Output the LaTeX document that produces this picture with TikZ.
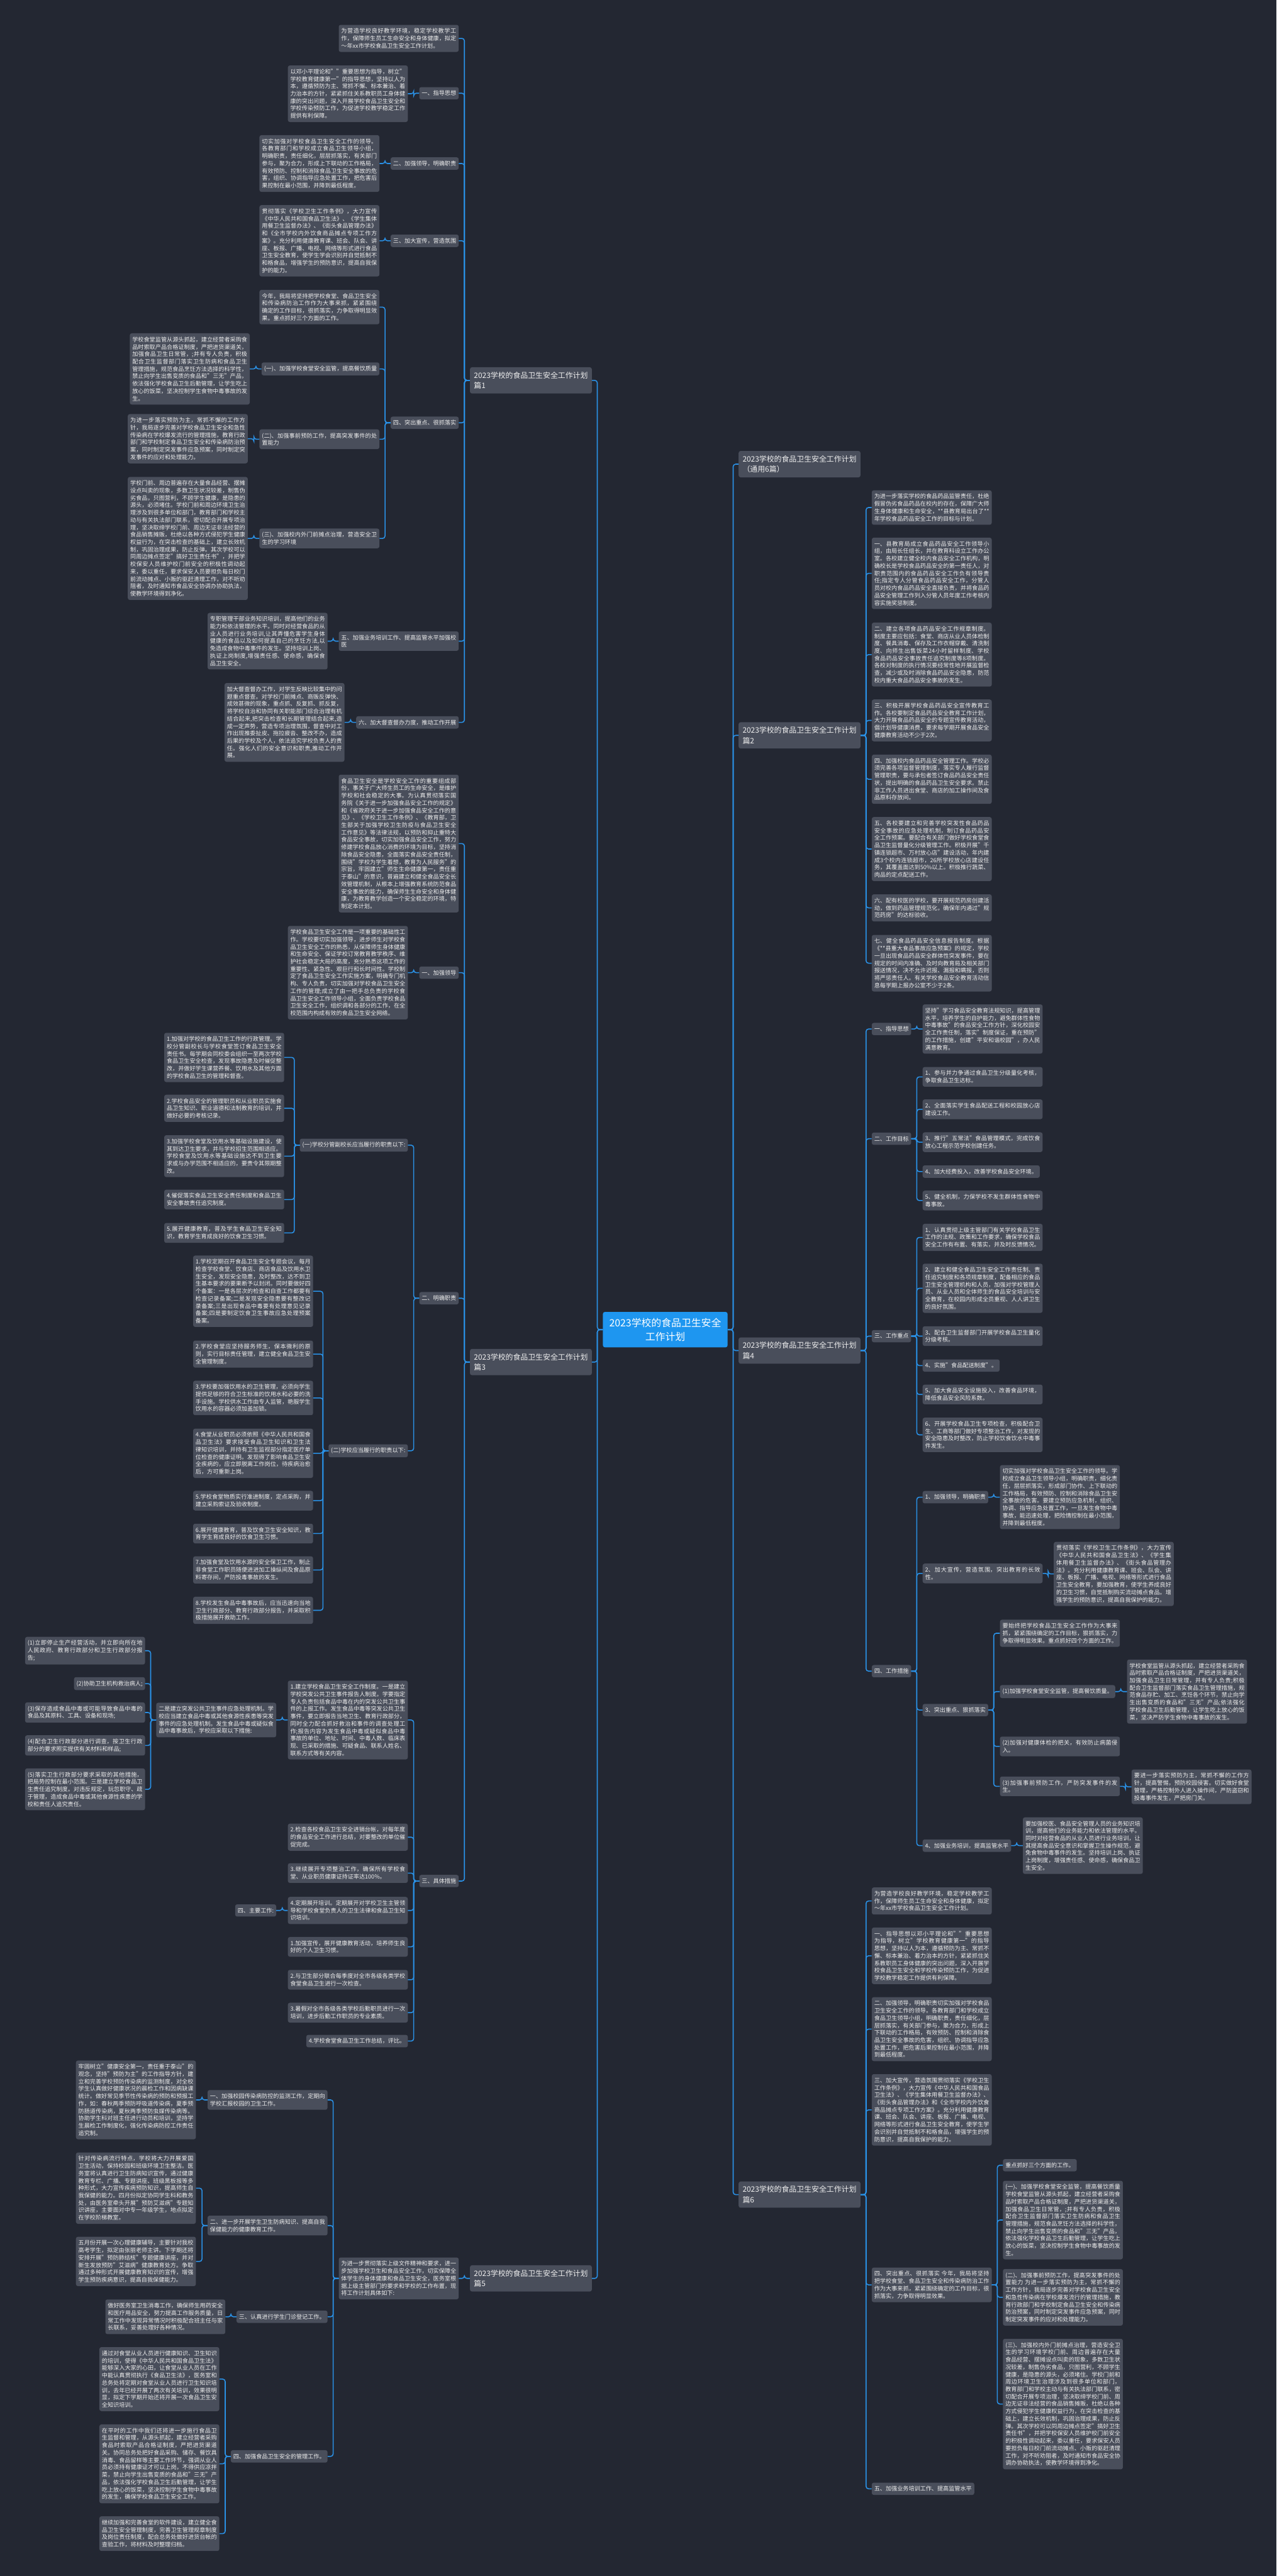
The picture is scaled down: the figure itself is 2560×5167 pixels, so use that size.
\documentclass[tikz,border=0pt]{standalone}
\usepackage{fontspec}
\setmainfont{Noto Sans CJK SC}
\XeTeXlinebreaklocale "zh"
\XeTeXlinebreakskip=0pt plus 1pt
\definecolor{bgc}{RGB}{35,39,50}
\definecolor{boxc}{RGB}{73,78,91}
\definecolor{rootc}{RGB}{30,150,240}
\definecolor{linec}{RGB}{42,145,230}
\definecolor{txtc}{RGB}{238,238,238}

\begin{document}
\begin{tikzpicture}[x=1pt,y=-1pt,
    every node/.style={text=txtc,fill=boxc,rounded corners=4pt,inner xsep=5pt,inner ysep=7pt},
    root/.style={fill=rootc,text=white,align=center,font=\fontsize{20}{27}\selectfont,minimum width=250pt,minimum height=71pt},
    part/.style={align=left,font=\fontsize{15}{20.7}\selectfont,inner xsep=8pt,inner ysep=9pt},
    leaf/.style={text width=230.5pt,align=justify,font=\fontsize{11.5}{14.8}\selectfont},
    tag/.style={font=\fontsize{11.5}{14.8}\selectfont},
    lnk/.style={draw=linec,line width=2pt,rounded corners=5pt}]
    \fill[bgc](0,0)rectangle(2560,5167);
    \useasboundingbox(0,0)rectangle(2560,5167);

    \node[root](c)at(1334,2667){2023学校的食品卫生安全\\工作计划};

    % left side
    \node[part,anchor=east](p1)at(1187,763){2023学校的食品卫生安全工作计划\\篇1};
    \node[leaf,anchor=east](p1a)at(920,77){为营造学校良好教学环境，稳定学校教学工作，保障师生员工生命安全和身体健康，拟定～年xx市学校食品卫生安全工作计划。};
    \node[tag,anchor=east](p1b)at(920,187){一、指导思想};
    \node[leaf,anchor=east](p1b1)at(818,188){以邓小平理论和""重要思想为指导，树立"学校教育健康第一"的指导思想，坚持以人为本，遵循预防为主、常抓不懈、标本兼治、着力治本的方针，紧紧抓住关系教职员工身体健康的突出问题，深入开展学校食品卫生安全和学校传染预防工作，为促进学校教学稳定工作提供有利保障。};
    \node[tag,anchor=east](p1c)at(920,328){二、加强领导，明确职责};
    \node[leaf,anchor=east](p1c1)at(761,328){切实加强对学校食品卫生安全工作的领导。各教育部门和学校成立食品卫生领导小组，明确职责，责任细化，层层抓落实，有关部门参与，聚为合力，形成上下联动的工作格局，有效预防、控制和消除食品卫生安全事故的危害，组织、协调指导应急处置工作，把危害后果控制在最小范围，并降到最低程度。};
    \node[tag,anchor=east](p1d)at(920,483){三、加大宣传，营造氛围};
    \node[leaf,anchor=east](p1d1)at(761,483){贯彻落实《学校卫生工作条例》，大力宣传《中华人民共和国食品卫生法》、《学生集体用餐卫生监督办法》、《街头食品管理办法》和《全市学校内外饮食商品摊点专项工作方案》。充分利用健康教育课、班会、队会、讲座、板报、广播、电视、网络等形式进行食品卫生安全教育，使学生学会识别并自觉抵制不和格食品，增强学生的预防意识，提高自我保护的能力。};
    \node[tag,anchor=east](p1e)at(920,848){四、突出重点、很抓落实};
    \node[leaf,anchor=east](p1e1)at(761,616){今年，我局将坚持把学校食堂、食品卫生安全和传染病防治工作作为大事来抓，紧紧围绕确定的工作目标，很抓落实，力争取得明显效果。重点抓好三个方面的工作。};
    \node[tag,anchor=east](p1e2)at(761,740){(一)、加强学校食堂安全监管，提高餐饮质量};
    \node[leaf,anchor=east](p1e2a)at(501,740){学校食堂监管从源头抓起，建立经营者采购食品时索取产品合格证制度，严把进货渠道关，加强食品卫生日常管，;并有专人负责，积极配合卫生监督部门落实卫生防病和食品卫生管理措施，规范食品烹饪方法选择的科学性，禁止向学生出售变质的食品和"三无"产品，依法强化学校食品卫生后勤管理，让学生吃上放心的饭菜，坚决控制学生食物中毒事故的发生。};
    \node[leaf,anchor=east](p1e3)at(761,881){(二)、加强事前预防工作，提高突发事件的处置能力};
    \node[leaf,anchor=east](p1e3a)at(497,880){为进一步落实预防为主，常抓不懈的工作方针，我局逐步完善对学校食品卫生安全和急性传染病在学校爆发流行的管理措施，教育行政部门和学校制定食品卫生安全和传染病防治预案，同时制定突发事件应急预案，同时制定突发事件的应对和处理能力。};
    \node[leaf,anchor=east](p1e4)at(761,1080){(三)、加强校内外门前摊点治理，营造安全卫生的学习环境};
    \node[leaf,anchor=east](p1e4a)at(497,1080){学校门前、周边普遍存在大量食品经营、摆摊设点叫卖的现象，多数卫生状况较差，制售伪劣食品，只图营利，不顾学生健康，是隐患的源头，必须堵住。学校门前和周边环境卫生治理涉及到很多单位和部门，教育部门和学校主动与有关执法部门联系，密切配合开展专项治理，坚决取缔学校门前、周边无证非法经营的食品销售摊贩，杜绝以各种方式侵犯学生健康权益行为，在突击检查的基础上，建立长效机制，巩固治理成果，防止反弹。其次学校可以同周边摊点签定"搞好卫生责任书"，并把学校保安人员维护校门前安全的积极性调动起来，委以重任，要求保安人员要担负每日校门前流动摊点、小贩的驱赶清理工作，对不听劝阻者，及时通知市食品安全协调办协助执法，使教学环境得到净化。};
    \node[leaf,anchor=east](p1f)at(920,1286){五、加强业务培训工作、提高监管水平加强校医};
    \node[leaf,anchor=east](p1f1)at(657,1286){专职管理干部业务知识培训，提高他们的业务能力和依法管理的水平。同时对经营食品的从业人员进行业务培训,让其弄懂危害学生身体健康的食品以及如何提高自己的烹饪方法,以免造成食物中毒事件的发生。坚持培训上岗、执证上岗制度,增强责任感、使命感，确保食品卫生安全。};
    \node[tag,anchor=east](p1g)at(920,1449){六、加大督查督办力度，推动工作开展};
    \node[leaf,anchor=east](p1g1)at(691,1449){加大督查督办工作，对学生反映比较集中的问题重点督查。对学校门前摊点、商贩反弹快、成效甚微的现象，重点抓、反复抓、抓反复，将学校自治和协同有关职能部门综合治理有机结合起来,把突击检查和长期管理结合起来,造成一定声势，营造专项治理氛围，督查中对工作出现推委扯皮、拖拉疲沓、整改不办，造成后果的学校及个人，依法追究学校负责人的责任。强化人们的安全意识和职责,推动工作开展。};

    \node[part,anchor=east](p3)at(1187,2732){2023学校的食品卫生安全工作计划\\篇3};
    \node[leaf,anchor=east](p3a)at(920,1692){食品卫生安全是学校安全工作的重要组成部份，事关于广大师生员工的生命安全，是维护学校和社会稳定的大事。为认真贯彻落实国务院《关于进一步加强食品安全工作的规定》和《省政府关于进一步加强食品安全工作的意见》、《学校卫生工作条例》、《教育部，卫生部关于加强学校卫生防疫与食品卫生安全工作意见》等法律法规，以预防和抑止重特大食品安全事故，切实加强食品安全工作，努力修建学校食品放心消费的环境为目标，坚持消除食品安全隐患，全面落实食品安全责任制，围绕"学校为学生着想，教育为人民服务"的宗旨，牢固建立"师生生命健康第一，责任重于泰山"的意识，普遍建立和健全食品安全长效管理机制，从根本上增强教育系统防范食品安全事故的能力，确保师生生命安全和身体健康，为教育教学创造一个安全稳定的环境，特制定本计划。};
    \node[tag,anchor=east](p3b)at(920,1951){一、加强领导};
    \node[leaf,anchor=east](p3b1)at(818,1951){学校食品卫生安全工作是一项重要的基础性工作。学校要切实加强领导，进步师生对学校食品卫生安全工作的熟悉，从保障师生身体健康和生命安全、保证学校订常教育教学秩序、维护社会稳定大局的高度，充分熟悉这项工作的重要性、紧急性、艰巨行和长时间性。学校制定了食品卫生安全工作实施方案，明确专门机构、专人负责，切实加强对学校食品卫生安全工作的管理;成立了由一把手总负责的学校食品卫生安全工作领导小组，全面负责学校食品卫生安全工作，组织调和各部分的工作，在全校范围内构成有效的食品卫生安全网络。};
    \node[tag,anchor=east](p3c)at(920,2604){二、明确职责};
    \node[tag,anchor=east](p3c1)at(818,2297){(一)学校分管副校长应当履行的职责以下:};
    \node[leaf,anchor=east](p3c1a)at(570,2121){1.加强对学校的食品卫生工作的行政管理。学校分管副校长与学校食堂签订食品卫生安全责任书。每学期会同校委会组织一至两次学校食品卫生安全检查，发现事故隐患及时催促整改，并做好学生课营养餐、饮用水及其他方面的学校食品卫生的管理和督查。};
    \node[leaf,anchor=east](p3c1b)at(570,2223){2.学校食品安全的管理职员和从业职员实施食品卫生知识、职业道德和法制教育的培训，并做好必要的考核记录。};
    \node[leaf,anchor=east](p3c1c)at(570,2319){3.加强学校食堂及饮用水等基础设施建设，使其到达卫生要求，并与学校招生范围相适应。学校食堂及饮用水等基础设施达不到卫生要求或与办学范围不相适应的，要责令其限期整改。};
    \node[leaf,anchor=east](p3c1d)at(570,2406){4.催促落实食品卫生安全责任制度和食品卫生安全事故责任追究制度。};
    \node[leaf,anchor=east](p3c1e)at(570,2473){5.展开健康教育，普及学生食品卫生安全知识，教育学生育成良好的饮食卫生习惯。};
    \node[tag,anchor=east](p3c2)at(818,2910){(二)学校应当履行的职责以下:};
    \node[leaf,anchor=east](p3c2a)at(628,2590){1.学校定期召开食品卫生安全专题会议，每月检查学校食堂、饮食店、商店食品及饮用水卫生安全，发现安全隐患，及时整改，达不到卫生基本要求的要果断予以封闭。同时要做好四个备案：一是各层次的检查和自查工作都要有检查记录备案;二是发现安全隐患要有整改记录备案;三是出现食品中毒要有处理意见记录备案;四是要制定饮食卫生事故应急处理预案备案。};
    \node[leaf,anchor=east](p3c2b)at(628,2716){2.学校食堂应坚持服务师生，保本微利的原则，实行目标责任管理，建立健全食品卫生安全管理制度。};
    \node[leaf,anchor=east](p3c2c)at(628,2804){3.学校要加强饮用水的卫生管理，必须向学生提供足够的符合卫生标准的饮用水和必要的洗手设施。学校供水工作由专人监管，艳服学生饮用水的容器必须加盖加锁。};
    \node[leaf,anchor=east](p3c2d)at(628,2915){4.食堂从业职员必须依照《中华人民共和国食品卫生法》要求接受食品卫生知识和卫生法律知识培训，并持有卫生监视部分指定医疗单位检查的健康证明。发现得了影响食品卫生安全疾病的，应立即脱离工作岗位，待疾病治愈后，方可重新上岗。};
    \node[leaf,anchor=east](p3c2e)at(628,3010){5.学校食堂物质实行准进制度，定点采购，并建立采购索证及验收制度。};
    \node[leaf,anchor=east](p3c2f)at(628,3076){6.展开健康教育，普及饮食卫生安全知识，教育学生育成良好的饮食卫生习惯。};
    \node[leaf,anchor=east](p3c2g)at(628,3149){7.加强食堂及饮用水源的安全保卫工作，制止非食堂工作职员随便进进加工操纵间及食品原料寄存间，严防投毒事故的发生。};
    \node[leaf,anchor=east](p3c2h)at(628,3230){8.学校发生食品中毒事故后，应当迅速向当地卫生行政部分、教育行政部分报告，并采取积极措施展开救助工作。};
    \node[tag,anchor=east](p3d)at(920,3773){三、具体措施};
    \node[leaf,anchor=east](p3d1)at(818,3450){1.建立学校食品卫生安全工作制度。一是建立学校突发公共卫生事件报告人制度。学要指定专人负责包括食品中毒在内的突发公共卫生事件的上报工作。发生食品中毒等突发公共卫生事件，要立即报告当地卫生、教育行政部分，同时全力配合抓好救治和事件的调查处理工作;报告内容为发生食品中毒或疑似食品中毒事故的单位、地址、时间、中毒人数、临床表现、已采取的措施、可疑食品、联系人姓名、联系方式等有关内容。};
    \node[leaf,anchor=east](p3d1x)at(554,3450){二是建立突发公共卫生事件应急处理机制。学校应当建立食品中毒或其他食源性疾患等突发事件的应急处理机制。发生食品中毒或疑似食品中毒事故后，学校应采取以下措施:};
    \node[leaf,anchor=east](p3d1xa)at(291,3311){(1)立即停止生产经营活动，并立即向所在地人民政府、教育行政部分和卫生行政部分报告;};
    \node[tag,anchor=east](p3d1xb)at(291,3377){(2)协助卫生机构救治病人;};
    \node[leaf,anchor=east](p3d1xc)at(291,3435){(3)保存造成食品中毒或可能导致食品中毒的食品及其原料、工具、设备和现场;};
    \node[leaf,anchor=east](p3d1xd)at(291,3501){(4)配合卫生行政部分进行调查，按卫生行政部分的要求照实提供有关材料和样品;};
    \node[leaf,anchor=east](p3d1xe)at(291,3589){(5)落实卫生行政部分要求采取的其他措施，把局势控制在最小范围。三是建立学校食品卫生责任追究制度。对违反规定，玩忽职守、疏于管理，造成食品中毒或其他食源性疾患的学校和责任人追究责任。};
    \node[leaf,anchor=east](p3d2)at(818,3685){2.检查各校食品卫生安全进销台帐，对每年度的食品安全工作进行总结，对要整改的单位催促完成。};
    \node[leaf,anchor=east](p3d3)at(818,3757){3.继续展开专项整治工作，确保所有学校食堂、从业职员健康证持证率达100\%。};
    \node[leaf,anchor=east](p3d4)at(818,3832){4.定期展开培训。定期展开对学校卫生主管领导和学校食堂负责人的卫生法律和食品卫生知识培训。};
    \node[tag,anchor=east](p3d4x)at(554,3832){四、主要工作:};
    \node[leaf,anchor=east](p3d5)at(818,3905){1.加强宣传，展开健康教育活动，培养师生良好的个人卫生习惯。};
    \node[leaf,anchor=east](p3d6)at(818,3971){2.与卫生部分联合每季度对全市各级各类学校食堂食品卫生进行一次检查。};
    \node[leaf,anchor=east](p3d7)at(818,4037){3.暑假对全市各级各类学校后勤职员进行一次培训，进步后勤工作职员的专业素质。};
    \node[tag,anchor=east](p3d8)at(818,4094){4.学校食堂食品卫生工作总结，评比。};

    \node[part,anchor=east](p5)at(1187,4570){2023学校的食品卫生安全工作计划\\篇5};
    \node[leaf,anchor=east](p5a)at(920,4570){为进一步贯彻落实上级文件精神和要求，进一步加强学校卫生和食品安全工作，切实保障全体学生的身体健康和食品卫生安全，医务室根据上级主管部门的要求和学校的工作布置，现将工作计划具体如下:};
    \node[leaf,anchor=east](p5a1)at(657,4212){一、加强校园传染病防控的监测工作，定期向学校汇报校园的卫生工作。};
    \node[leaf,anchor=east](p5a1x)at(393,4212){牢固树立"健康安全第一，责任重于泰山"的观念，坚持"预防为主"的工作指导方针，建立和完善学校预防传染病的监测制度，对全校学生认真做好健康状况的晨检工作和因病缺课统计。做好常见季节性传染病的预防和预报工作，如：春秋两季预防呼吸道传染病，夏季预防肠道传染病，夏秋两季预防虫媒传染病等。协助学生科对班主任进行动员和培训，坚持学生晨检工作制度化，强化传染病防控工作责任追究制。};
    \node[leaf,anchor=east](p5a2)at(657,4464){二、进一步开展学生卫生防病知识、提高自我保健能力的健康教育工作。};
    \node[leaf,anchor=east](p5a2x)at(393,4389){针对传染病流行特点，学校将大力开展爱国卫生活动，保持校园和班级环境卫生整洁。医务室将认真进行卫生防病知识宣传，通过健康教育专栏、广播、专题讲座、班级黑板报等多种形式，大力宣传疾病预防知识，提高师生自我保健的能力。四月份拟定协同学生科和教务处，由医务室牵头开展"预防艾滋病"专题知识讲座，主要面对中专一年级学生，地点拟定在学校阶梯教室。};
    \node[leaf,anchor=east](p5a2y)at(393,4536){五月份开展一次心理健康辅导，主要针对我校高考学生，拟定由张丽老师主讲。下学期还将安排开展"预防肺结核"专题健康讲座，并对新生发放预防"艾滋病"健康教育处方。争取通过多种形式开展健康教育知识的宣传，增强学生预防疾病意识，提高自我保健能力。};
    \node[tag,anchor=east](p5a3)at(657,4647){三、认真进行学生门诊登记工作。};
    \node[leaf,anchor=east](p5a3x)at(452,4647){做好医务室卫生消毒工作，确保师生用药安全和医疗用品安全，努力提高工作服务质量，日常工作中发现异常情况时积极配合班主任与家长联系，妥善处理好各种情况。};
    \node[tag,anchor=east](p5a4)at(657,4927){四、加强食品卫生安全的管理工作。};
    \node[leaf,anchor=east](p5a4x)at(440,4772){通过对食堂从业人员进行健康知识、卫生知识的培训，使得《中华人民共和国食品卫生法》能够深入大家的心田，让食堂从业人员在工作中能认真贯彻执行《食品卫生法》，医务室和总务处将定期对食堂从业人员进行卫生知识培训，去年已经开展了两次有关培训，效果很明显，拟定下学期开始还将开展一次食品卫生安全知识培训。};
    \node[leaf,anchor=east](p5a4y)at(440,4942){在平时的工作中我们还将进一步施行食品卫生监督和管理，从源头抓起，建立经营者采购食品时索取产品合格证制度，严把进货渠道关。协同总务处把好食品采购、储存、餐饮具消毒、食品留样等主要工作环节，强调从业人员必须持有健康证才可以上岗，不得供应凉拌菜，禁止向学生出售变质的食品和"三无"产品，依法强化学校食品卫生后勤管理，让学生吃上放心的饭菜，坚决控制学生食物中毒事故的发生，确保学校食品卫生安全工作。};
    \node[leaf,anchor=east](p5a4z)at(440,5082){继续加强和完善食堂的软件建设，建立健全食品卫生安全管理制度，完善卫生管理规章制度及岗位责任制度，配合总务处做好进货台帐的查验工作，将材料及时整理归档。};

    % right side
    \node[part,anchor=west](p0)at(1481,931){2023学校的食品卫生安全工作计划\\（通用6篇）};

    \node[part,anchor=west](p2)at(1481,1475){2023学校的食品卫生安全工作计划\\篇2};
    \node[leaf,anchor=west](p2a)at(1748,1018){为进一步落实学校的食品药品监管责任，杜绝假冒伪劣食品药品在校内的存在，保障广大师生身体健康和生命安全，**县教育局出台了**年学校食品药品安全工作的目标与计划。};
    \node[leaf,anchor=west](p2b)at(1748,1150){一、县教育局成立食品药品安全工作领导小组，由局长任组长，并在教育科设立工作办公室。各校建立健全校内食品安全工作机构，明确校长是学校食品药品安全的第一责任人，对职责范围内的食品药品安全工作负有领导责任;指定专人分管食品药品安全工作，分管人员对校内食品药品安全直接负责，并将食品药品安全管理工作列入分管人员年度工作考核内容实施奖惩制度。};
    \node[leaf,anchor=west](p2c)at(1748,1313){二、建立各项食品药品安全工作规章制度。制度主要应包括：食堂、商店从业人员体检制度、餐具消毒、保存及工作衣帽穿戴、清洗制度、向师生出售饭菜24小时留样制度、学校食品药品安全事故责任追究制度等8项制度。各校对制度的执行情况要经常性地开展监督检查，减少或及时消除食品药品安全隐患，防范校内重大食品药品安全事故的发生。};
    \node[leaf,anchor=west](p2d)at(1748,1445){三、积极开展学校食品药品安全宣传教育工作。各校要制定食品药品安全教育工作计划，大力开展食品药品安全的专题宣传教育活动，倡计划导健康消费，要求每学期开展食品安全健康教育活动不少于2次。};
    \node[leaf,anchor=west](p2e)at(1748,1563){四、加强校内食品药品安全管理工作。学校必须完善各项监督管理制度，落实专人履行监督管理职责，要与承包者签订食品药品安全责任状，提出明确的食品药品卫生安全要求。禁止非工作人员进出食堂、商店的加工操作间及食品原料存放间。};
    \node[leaf,anchor=west](p2f)at(1748,1703){五、各校要建立和完善学校突发性食品药品安全事故的应急处理机制，制订食品药品安全工作预案。要配合有关部门做好学校食堂食品卫生监督量化分级管理工作。积极开展"千镇连锁超市、万村放心店"建设活动，年内建成3个校内连锁超市，26所学校放心店建设任务，其覆盖面达到50\%以上。积极推行蔬菜、肉品的定点配送工作。};
    \node[leaf,anchor=west](p2g)at(1748,1821){六、配有校医的学校，要开展规范药房创建活动，做到药品管理规范化，确保年内通过"规范药房"的达标验收。};
    \node[leaf,anchor=west](p2h)at(1748,1932){七、健全食品药品安全信息报告制度。根据《**县重大食品事故应急预案》的规定，学校一旦出现食品药品安全群体性突发事件，要在规定的时间内准确、及时向教育局及相关部门报送情况，决不允许迟报、漏报和瞒报，否则将严惩责任人。有关学校食品安全教育活动信息每学期上报办公室不少于2条。};

    \node[part,anchor=west](p4)at(1481,2709){2023学校的食品卫生安全工作计划\\篇4};
    \node[tag,anchor=west](p4a)at(1748,2064){一、指导思想};
    \node[leaf,anchor=west](p4a1)at(1850,2064){坚持"学习食品安全教育法规知识，提高管理水平，培养学生的自护能力，避免群体性食物中毒事故"的食品安全工作方针，深化校园安全工作责任制，落实"制度保证，重在预防"的工作措施，创建"平安和谐校园"，办人民满意教育。};
    \node[tag,anchor=west](p4b)at(1748,2284){二、工作目标};
    \node[leaf,anchor=west](p4b1)at(1850,2160){1、参与并力争通过食品卫生分级量化考核，争取食品卫生达标。};
    \node[leaf,anchor=west](p4b2)at(1850,2225){2、全面落实学生食品配送工程和校园放心店建设工作。};
    \node[leaf,anchor=west](p4b3)at(1850,2291){3、推行"五常法"食品管理模式，完成饮食放心工程示范学校创建任务。};
    \node[tag,anchor=west](p4b4)at(1850,2350){4、加大经费投入，改善学校食品安全环境。};
    \node[leaf,anchor=west](p4b5)at(1850,2408){5、健全机制，力保学校不发生群体性食物中毒事故。};
    \node[tag,anchor=west](p4c)at(1748,2680){三、工作重点};
    \node[leaf,anchor=west](p4c1)at(1850,2482){1、认真贯彻上级主管部门有关学校食品卫生工作的法规、政策和工作要求，确保学校食品安全工作有布置、有落实，并及时反馈情况。};
    \node[leaf,anchor=west](p4c2)at(1850,2584){2、建立和健全食品卫生安全工作责任制、责任追究制度和各项规章制度，配备相应的食品卫生安全管理机构和人员，加强对学校管理人员、从业人员和全体师生的食品安全培训与安全教育，在校园内形成全员重视、人人讲卫生的良好氛围。};
    \node[leaf,anchor=west](p4c3)at(1850,2680){3、配合卫生监督部门开展学校食品卫生量化分级考核。};
    \node[tag,anchor=west](p4c4)at(1850,2739){4、实施"食品配送制度"。};
    \node[leaf,anchor=west](p4c5)at(1850,2797){5、加大食品安全设施投入，改善食品环境，降低食品安全风险系数。};
    \node[leaf,anchor=west](p4c6)at(1850,2878){6、开展学校食品卫生专项检查，积极配合卫生、工商等部门做好专项整治工作，对发现的安全隐患及时整改，防止学校饮食饮水中毒事件发生。};
    \node[tag,anchor=west](p4d)at(1748,3352){四、工作措施};
    \node[tag,anchor=west](p4d1)at(1850,3003){1、加强领导，明确职责};
    \node[leaf,anchor=west](p4d1x)at(2005,3003){切实加强对学校食品卫生安全工作的领导。学校成立食品卫生领导小组，明确职责，细化责任，层层抓落实，形成部门协作、上下联动的工作格局，有效预防、控制和消除食品卫生安全事故的危害。要建立预防应急机制，组织、协调、指导应急处置工作，一旦发生食物中毒事故，能迅速处理，把险情控制在最小范围，并降到最低程度。};
    \node[leaf,anchor=west](p4d2)at(1850,3156){2、加大宣传，营造氛围，突出教育的长效性。};
    \node[leaf,anchor=west](p4d2x)at(2113,3157){贯彻落实《学校卫生工作条例》，大力宣传《中华人民共和国食品卫生法》、《学生集体用餐卫生监督办法》、《街头食品管理办法》。充分利用健康教育课、班会、队会、讲座、板报、广播、电视、网络等形式进行食品卫生安全教育，要加强教育，使学生养成良好的卫生习惯，自觉抵制购买流动摊点食品。增强学生的预防意识，提高自我保护的能力。};
    \node[tag,anchor=west](p4d3)at(1850,3430){3、突出重点、狠抓落实};
    \node[leaf,anchor=west](p4d3a)at(2005,3276){要始终把学校食品卫生安全工作作为大事来抓，紧紧围绕确定的工作目标，狠抓落实，力争取得明显效果。重点抓好四个方面的工作。};
    \node[tag,anchor=west](p4d3b)at(2005,3393){(1)加强学校食堂安全监管，提高餐饮质量。};
    \node[leaf,anchor=west](p4d3bx)at(2260,3393){学校食堂监管从源头抓起，建立经营者采购食品时索取产品合格证制度，严把进货渠道关，加强食品卫生日常管理，并有专人负责;积极配合卫生监督部门落实食品卫生管理措施，规范食品存贮、加工、烹饪各个环节，禁止向学生出售变质的食品和"三无"产品;依法强化学校食品卫生后勤管理，让学生吃上放心的饭菜，坚决严防学生食物中毒事故的发生。};
    \node[leaf,anchor=west](p4d3c)at(2005,3503){(2)加强对健康体检的把关，有效防止病菌侵入。};
    \node[leaf,anchor=west](p4d3d)at(2005,3583){(3)加强事前预防工作，严防突发事件的发生。};
    \node[leaf,anchor=west](p4d3dx)at(2269,3584){要进一步落实预防为主，常抓不懈的工作方针，提高警惕，预防校园侵害。切实做好食堂管理，严格控制外人进入操作间，严防盗窃和投毒事件发生，严把房门关。};
    \node[tag,anchor=west](p4d4)at(1850,3702){4、加强业务培训，提高监管水平};
    \node[leaf,anchor=west](p4d4x)at(2051,3702){要加强校医、食品安全管理人员的业务知识培训，提高他们的业务能力和依法管理的水平。同时对经营食品的从业人员进行业务培训，让其提高食品安全意识和掌握卫生操作规范，避免食物中毒事件的发生。坚持培训上岗、执证上岗制度，增强责任感、使命感，确保食品卫生安全。};

    \node[part,anchor=west](p6)at(1481,4402){2023学校的食品卫生安全工作计划\\篇6};
    \node[leaf,anchor=west](p6a)at(1748,3813){为营造学校良好教学环境，稳定学校教学工作，保障师生员工生命安全和身体健康，拟定～年xx市学校食品卫生安全工作计划。};
    \node[leaf,anchor=west](p6b)at(1748,3923){一、指导思想以邓小平理论和""重要思想为指导，树立"学校教育健康第一"的指导思想，坚持以人为本，遵循预防为主、常抓不懈、标本兼治、着力治本的方针，紧紧抓住关系教职员工身体健康的突出问题，深入开展学校食品卫生安全和学校传染预防工作，为促进学校教学稳定工作提供有利保障。};
    \node[leaf,anchor=west](p6c)at(1748,4070){二、加强领导，明确职责切实加强对学校食品卫生安全工作的领导。各教育部门和学校成立食品卫生领导小组，明确职责，责任细化，层层抓落实，有关部门参与，聚为合力，形成上下联动的工作格局，有效预防、控制和消除食品卫生安全事故的危害，组织、协调指导应急处置工作，把危害后果控制在最小范围，并降到最低程度。};
    \node[leaf,anchor=west](p6d)at(1748,4232){三、加大宣传，营造氛围贯彻落实《学校卫生工作条例》，大力宣传《中华人民共和国食品卫生法》、《学生集体用餐卫生监督办法》、《街头食品管理办法》和《全市学校内外饮食商品摊点专项工作方案》。充分利用健康教育课、班会、队会、讲座、板报、广播、电视、网络等形式进行食品卫生安全教育，使学生学会识别并自觉抵制不和格食品，增强学生的预防意识，提高自我保护的能力。};
    \node[leaf,anchor=west](p6e)at(1748,4583){四、突出重点、很抓落实 今年，我局将坚持把学校食堂、食品卫生安全和传染病防治工作作为大事来抓，紧紧围绕确定的工作目标，很抓落实，力争取得明显效果。};
    \node[tag,anchor=west](p6e1)at(2011,4343){重点抓好三个方面的工作。};
    \node[leaf,anchor=west](p6e2)at(2011,4453){(一)、加强学校食堂安全监管，提高餐饮质量学校食堂监管从源头抓起，建立经营者采购食品时索取产品合格证制度，严把进货渠道关，加强食品卫生日常管，;并有专人负责，积极配合卫生监督部门落实卫生防病和食品卫生管理措施，规范食品烹饪方法选择的科学性，禁止向学生出售变质的食品和"三无"产品，依法强化学校食品卫生后勤管理，让学生吃上放心的饭菜，坚决控制学生食物中毒事故的发生。};
    \node[leaf,anchor=west](p6e3)at(2011,4608){(二)、加强事前预防工作，提高突发事件的处置能力 为进一步落实预防为主，常抓不懈的工作方针，我局逐步完善对学校食品卫生安全和急性传染病在学校爆发流行的管理措施，教育行政部门和学校制定食品卫生安全和传染病防治预案，同时制定突发事件应急预案，同时制定突发事件的应对和处理能力。};
    \node[leaf,anchor=west](p6e4)at(2011,4822){(三)、加强校内外门前摊点治理，营造安全卫生的学习环境学校门前、周边普遍存在大量食品经营、摆摊设点叫卖的现象，多数卫生状况较差，制售伪劣食品，只图营利，不顾学生健康，是隐患的源头，必须堵住。学校门前和周边环境卫生治理涉及到很多单位和部门，教育部门和学校主动与有关执法部门联系，密切配合开展专项治理，坚决取缔学校门前、周边无证非法经营的食品销售摊贩，杜绝以各种方式侵犯学生健康权益行为，在突击检查的基础上，建立长效机制，巩固治理成果，防止反弹。其次学校可以同周边摊点签定"搞好卫生责任书"，并把学校保安人员维护校门前安全的积极性调动起来，委以重任，要求保安人员要担负每日校门前流动摊点、小贩的驱赶清理工作，对不听劝阻者，及时通知市食品安全协调办协助执法，使教学环境得到净化。};
    \node[tag,anchor=west](p6f)at(1748,4992){五、加强业务培训工作、提高监管水平};

    % connectors
    \foreach \a/\b in {c/p1,c/p3,c/p5,
        p1/p1a,p1/p1b,p1/p1c,p1/p1d,p1/p1e,p1/p1f,p1/p1g,p1b/p1b1,p1c/p1c1,p1d/p1d1,
        p1e/p1e1,p1e/p1e2,p1e/p1e3,p1e/p1e4,p1e2/p1e2a,p1e3/p1e3a,p1e4/p1e4a,p1f/p1f1,p1g/p1g1,
        p3/p3a,p3/p3b,p3/p3c,p3/p3d,p3b/p3b1,p3c/p3c1,p3c/p3c2,
        p3c1/p3c1a,p3c1/p3c1b,p3c1/p3c1c,p3c1/p3c1d,p3c1/p3c1e,
        p3c2/p3c2a,p3c2/p3c2b,p3c2/p3c2c,p3c2/p3c2d,p3c2/p3c2e,p3c2/p3c2f,p3c2/p3c2g,p3c2/p3c2h,
        p3d/p3d1,p3d/p3d2,p3d/p3d3,p3d/p3d4,p3d/p3d5,p3d/p3d6,p3d/p3d7,p3d/p3d8,p3d1/p3d1x,p3d4/p3d4x,
        p3d1x/p3d1xa,p3d1x/p3d1xb,p3d1x/p3d1xc,p3d1x/p3d1xd,p3d1x/p3d1xe,
        p5/p5a,p5a/p5a1,p5a/p5a2,p5a/p5a3,p5a/p5a4,p5a1/p5a1x,p5a2/p5a2x,p5a2/p5a2y,p5a3/p5a3x,
        p5a4/p5a4x,p5a4/p5a4y,p5a4/p5a4z}
        \draw[lnk](\a.west)--++(-11,0)|-(\b.east);
    \foreach \a/\b in {c/p0,c/p2,c/p4,c/p6,
        p2/p2a,p2/p2b,p2/p2c,p2/p2d,p2/p2e,p2/p2f,p2/p2g,p2/p2h,
        p4/p4a,p4/p4b,p4/p4c,p4/p4d,p4a/p4a1,
        p4b/p4b1,p4b/p4b2,p4b/p4b3,p4b/p4b4,p4b/p4b5,
        p4c/p4c1,p4c/p4c2,p4c/p4c3,p4c/p4c4,p4c/p4c5,p4c/p4c6,
        p4d/p4d1,p4d/p4d2,p4d/p4d3,p4d/p4d4,p4d1/p4d1x,p4d2/p4d2x,
        p4d3/p4d3a,p4d3/p4d3b,p4d3/p4d3c,p4d3/p4d3d,p4d3b/p4d3bx,p4d3d/p4d3dx,p4d4/p4d4x,
        p6/p6a,p6/p6b,p6/p6c,p6/p6d,p6/p6e,p6/p6f,
        p6e/p6e1,p6e/p6e2,p6e/p6e3,p6e/p6e4}
        \draw[lnk](\a.east)--++(11,0)|-(\b.west);
\end{tikzpicture}
\end{document}
